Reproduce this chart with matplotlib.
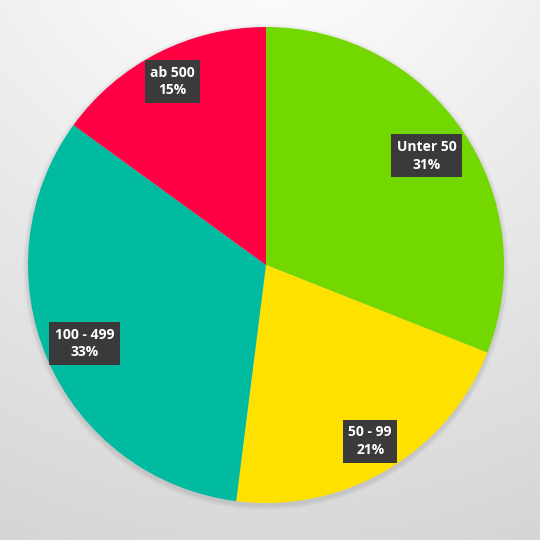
import matplotlib.pyplot as plt
import numpy as np
from matplotlib.patches import Circle

categories = ["Unter 50", "50 - 99", "100 - 499", "ab 500"]
shares = [31, 21, 33, 15]
colors = ["#72D800", "#FFE100", "#00BBA0", "#FF0044"]
label_dist = [0.815, 0.86, 0.83, 0.865]

fig = plt.figure(figsize=(5.4, 5.4), dpi=100)
ax = fig.add_axes([0, 0, 1, 1])

# background: soft radial gradient, light at the top
yy, xx = np.mgrid[0:540, 0:540]
d = np.sqrt((xx - 270) ** 2 + (yy - 540 - 120) ** 2)
t = np.clip((d - 120) / 600, 0, 1)
val = 0.835 + 0.15 * (1 - t)
bg = np.dstack([val, val, val])
ax.imshow(bg, extent=(0, 540, 0, 540), origin="lower", zorder=0)

cx, cy, r = 266, 275, 238

# faint shadow around the pie
for i in range(5):
    ax.add_patch(Circle((cx, cy - 2), r + 5 - i, color="black", alpha=0.018, lw=0, zorder=1))

wedges, _ = ax.pie(shares, colors=colors, startangle=90, counterclock=False,
                   center=(cx, cy), radius=r, frame=True,
                   wedgeprops=dict(linewidth=0))
for w in wedges:
    w.set_zorder(2)
ax.set_xlim(0, 540)
ax.set_ylim(0, 540)
ax.set_aspect("equal")
ax.axis("off")

for w, name, s, ld in zip(wedges, categories, shares, label_dist):
    ang = np.deg2rad((w.theta1 + w.theta2) / 2)
    x = cx + ld * r * np.cos(ang)
    y = cy + ld * r * np.sin(ang)
    ax.text(x, y, f"{name}\n{s}%", ha="center", va="center", color="white",
            fontsize=10, fontweight="bold", family="Open Sans", linespacing=1.35,
            zorder=4,
            bbox=dict(boxstyle="square,pad=0.4", fc="#3A3A3A", ec="none"))

fig.savefig("out.png", dpi=100)
